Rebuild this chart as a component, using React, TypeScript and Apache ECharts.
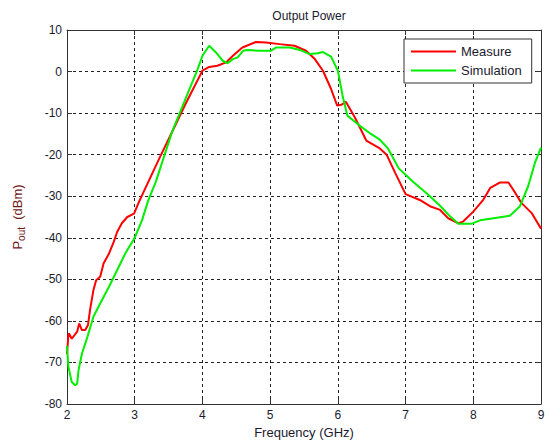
import React, { useEffect, useRef } from 'react';
import * as echarts from 'echarts';

const freqMeasure = [2.0, 2.02, 2.03, 2.07, 2.15, 2.18, 2.22, 2.27, 2.31, 2.34, 2.39, 2.43, 2.49, 2.54, 2.62, 2.69, 2.74, 2.81, 2.89, 2.99, 3.06, 3.13, 3.36, 3.55, 3.75, 3.9, 4.0, 4.1, 4.22, 4.35, 4.45, 4.59, 4.79, 4.94, 5.14, 5.36, 5.53, 5.66, 5.78, 5.9, 5.99, 6.05, 6.12, 6.25, 6.42, 6.62, 6.72, 6.85, 7.0, 7.21, 7.36, 7.51, 7.63, 7.78, 7.85, 8.0, 8.15, 8.25, 8.39, 8.52, 8.62, 8.71, 8.86, 9.0];
const powerMeasure = [-68, -63.5, -63, -64.3, -62.6, -60.6, -62.2, -62.2, -61, -57.4, -52.6, -50.2, -49.4, -46.2, -43.8, -41, -38.6, -36.5, -35, -34.2, -31.5, -29, -21, -14.6, -7.8, -3, 0.2, 1.1, 1.4, 2.2, 3.8, 5.8, 7.1, 7.0, 6.6, 6.2, 5, 3, 0.2, -4.2, -8.2, -8, -7.3, -11, -16.6, -18.5, -20, -24.5, -29.5, -30.9, -32.4, -33.3, -35.3, -36.5, -36.1, -33.7, -30.8, -28, -26.7, -26.7, -29.2, -31.6, -34, -37.8];

const freqSim = [2.0, 2.02, 2.07, 2.12, 2.15, 2.17, 2.22, 2.3, 2.39, 2.49, 2.62, 2.74, 2.86, 3.0, 3.11, 3.2, 3.31, 3.55, 3.75, 3.93, 4.0, 4.1, 4.2, 4.3, 4.37, 4.45, 4.52, 4.6, 4.67, 4.84, 5.01, 5.09, 5.29, 5.44, 5.58, 5.7, 5.78, 5.9, 6.0, 6.07, 6.14, 6.32, 6.47, 6.62, 6.74, 6.9, 7.11, 7.31, 7.51, 7.66, 7.78, 7.98, 8.1, 8.3, 8.54, 8.69, 8.81, 8.91, 9.0];
const powerSim = [-66, -71, -74.7, -75.5, -75.1, -71.9, -67.9, -63.9, -59, -55.8, -51.8, -47.8, -43.8, -40, -35.7, -31, -26.6, -14.6, -6.6, 0.6, 3.8, 6.2, 4.6, 2.6, 2.0, 3.0, 3.4, 5, 5.2, 5.0, 5.0, 5.8, 5.8, 5.2, 4.2, 4.4, 4.7, 3.6, 0.2, -5.8, -10.6, -13, -14.8, -16.4, -18.5, -23.3, -26.5, -29.3, -32.3, -34.9, -36.6, -36.6, -35.8, -35.3, -34.7, -32.4, -27.6, -22, -18.3];

const seriesNames = ['Measure', 'Simulation'];
const chartTitle = 'Output Power';
const xName = 'Frequency (GHz)';

const FONT = '"Liberation Sans", Arial, sans-serif';
const TXT = '#1a1a30';

export default function App() {
  const ref = useRef<HTMLDivElement>(null);
  useEffect(() => {
    const chart = echarts.init(ref.current!, null, { renderer: 'svg' });
    const measure = freqMeasure.map((f, i) => [f, powerMeasure[i]]);
    const sim = freqSim.map((f, i) => [f, powerSim[i]]);
    const frameLine = { show: true, onZero: false, lineStyle: { color: '#333', width: 1 } };
    const tick = { show: true, inside: true, length: 5, lineStyle: { color: '#333' } };
    chart.setOption({
      animation: false,
      backgroundColor: '#fff',
      textStyle: { fontFamily: FONT },
      title: {
        text: chartTitle,
        left: 304,
        textAlign: 'center',
        top: 5,
        textStyle: { fontSize: 12, fontWeight: 'normal', color: TXT, fontFamily: FONT },
      },
      grid: { left: 67, right: 9, top: 30, bottom: 41, containLabel: false },
      legend: {
        data: seriesNames,
        orient: 'vertical',
        left: 404,
        top: 39,
        padding: [6, 10, 6, 7],
        itemGap: 6,
        itemWidth: 45,
        itemHeight: 2,
        icon: 'rect',
        backgroundColor: '#fff',
        borderColor: '#333',
        borderWidth: 1,
        borderRadius: 0,
        textStyle: { fontSize: 13, color: TXT, fontFamily: FONT, padding: [0, 0, 0, 0] },
      },
      xAxis: [
        {
          type: 'value',
          min: 2,
          max: 9,
          interval: 1,
          name: xName,
          nameLocation: 'middle',
          nameGap: 22,
          nameTextStyle: { fontSize: 13, color: TXT, fontFamily: FONT },
          axisLine: frameLine,
          axisTick: tick,
          axisLabel: { fontSize: 12, color: TXT, margin: 5, fontFamily: FONT },
          splitLine: { show: true, lineStyle: { color: '#222', type: [3, 3], width: 1 } },
        },
        {
          type: 'value',
          position: 'top',
          min: 2,
          max: 9,
          interval: 1,
          axisLine: frameLine,
          axisTick: tick,
          axisLabel: { show: false },
          splitLine: { show: false },
        },
      ],
      yAxis: [
        {
          type: 'value',
          min: -80,
          max: 10,
          interval: 10,
          name: '{p|P}{s|out}{p|  (dBm)}',
          nameLocation: 'middle',
          nameGap: 42,
          nameRotate: 90,
          nameTextStyle: {
            color: '#701818',
            fontFamily: FONT,
            rich: {
              p: { fontSize: 13, color: '#701818', fontFamily: FONT, lineHeight: 16 },
              s: { fontSize: 10, color: '#701818', fontFamily: FONT, lineHeight: 16, padding: [8, 0, 0, 0] },
            },
          },
          axisLine: frameLine,
          axisTick: tick,
          axisLabel: { fontSize: 12, color: TXT, margin: 5, fontFamily: FONT },
          splitLine: { show: true, lineStyle: { color: '#222', type: [3, 3], width: 1 } },
        },
        {
          type: 'value',
          position: 'right',
          min: -80,
          max: 10,
          interval: 10,
          axisLine: frameLine,
          axisTick: tick,
          axisLabel: { show: false },
          splitLine: { show: false },
        },
      ],
      series: [
        {
          name: seriesNames[0],
          type: 'line',
          data: measure,
          showSymbol: false,
          symbol: 'none',
          color: '#ff0000',
          lineStyle: { color: '#ff0000', width: 2 },
          z: 3,
        },
        {
          name: seriesNames[1],
          type: 'line',
          data: sim,
          showSymbol: false,
          symbol: 'none',
          color: '#00ee00',
          lineStyle: { color: '#00ee00', width: 2 },
          z: 4,
        },
      ],
    });
    return () => chart.dispose();
  }, []);
  return (
    <div
      ref={ref}
      style={{ position: 'absolute', left: 0, top: 0, width: 550, height: 445, background: '#fff' }}
    />
  );
}
